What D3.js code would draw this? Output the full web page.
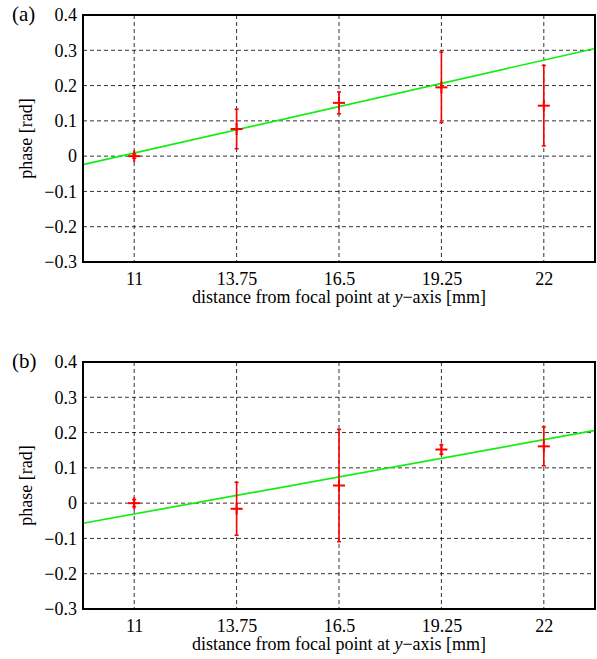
<!DOCTYPE html>
<html>
<head>
<meta charset="utf-8">
<script src="https://cdn.jsdelivr.net/npm/d3@7"></script>
<style>
  body { margin: 0; background: #fff; }
  .grid line { stroke: #000; stroke-width: 0.8; stroke-dasharray: 4,3; }
</style>
</head>
<body>
<div id="chart"></div>
<script>
// distances from focal point [mm]
const distances = [11, 13.75, 16.5, 19.25, 22];
const yTicks = [-0.3, -0.2, -0.1, 0, 0.1, 0.2, 0.3, 0.4];

// panel (a)
const phaseA = [0, 0.077, 0.151, 0.195, 0.143];
const errA = [0.006, 0.056, 0.031, 0.1, 0.114];
const fitA = [-0.024, 0.305]; // fit line at domain ends

// panel (b)
const phaseB = [0, -0.016, 0.05, 0.152, 0.161];
const errB = [0.01, 0.075, 0.159, 0.013, 0.055];
const fitB = [-0.057, 0.206];

const WIDTH = 597;
const HEIGHT = 659;
const X_DOMAIN = [9.625, 23.375];
const FONT = "'Liberation Serif', 'Times New Roman', serif";

const svg = d3.select("#chart")
    .append("svg")
    .attr("width", WIDTH)
    .attr("height", HEIGHT)
    .style("font-family", FONT);

const panels = [
    { label: "(a)", top: 15, phase: phaseA, err: errA, fit: fitA },
    { label: "(b)", top: 362, phase: phaseB, err: errB, fit: fitB }
];

const left = 83, right = 595, plotH = 247;

const x = d3.scaleLinear().domain(X_DOMAIN).range([left, right]);

panels.forEach(p => {
    const y = d3.scaleLinear().domain([-0.3, 0.4]).range([p.top + plotH, p.top]);
    const g = svg.append("g");

    // grid
    const grid = g.append("g").attr("class", "grid");
    grid.selectAll(".gx")
        .data(distances)
        .enter().append("line")
        .attr("x1", d => x(d)).attr("x2", d => x(d))
        .attr("y1", p.top).attr("y2", p.top + plotH);
    grid.selectAll(".gy")
        .data(yTicks.slice(1, -1))
        .enter().append("line")
        .attr("x1", left).attr("x2", right)
        .attr("y1", d => y(d)).attr("y2", d => y(d));

    // fit line
    g.append("line")
        .attr("x1", x(X_DOMAIN[0])).attr("y1", y(p.fit[0]))
        .attr("x2", x(X_DOMAIN[1])).attr("y2", y(p.fit[1]))
        .attr("stroke", "#11ee11")
        .attr("stroke-width", 1.7);

    // error bars + markers
    const pts = distances.map((d, i) => ({ x: d, y: p.phase[i], e: p.err[i] }));
    const eb = g.selectAll(".eb").data(pts).enter().append("g")
        .attr("stroke", "#ff0000")
        .attr("stroke-width", 1.6);
    eb.append("line")
        .attr("x1", d => x(d.x)).attr("x2", d => x(d.x))
        .attr("y1", d => y(d.y - d.e)).attr("y2", d => y(d.y + d.e));
    [-1, 1].forEach(s => {
        eb.append("line")
            .attr("x1", d => x(d.x) - 2).attr("x2", d => x(d.x) + 2)
            .attr("y1", d => y(d.y + s * d.e)).attr("y2", d => y(d.y + s * d.e));
    });
    // "+" markers
    eb.append("line")
        .attr("x1", d => x(d.x) - 6).attr("x2", d => x(d.x) + 6)
        .attr("y1", d => y(d.y)).attr("y2", d => y(d.y))
        .attr("stroke-width", 2);
    eb.append("line")
        .attr("x1", d => x(d.x)).attr("x2", d => x(d.x))
        .attr("y1", d => y(d.y) - 6).attr("y2", d => y(d.y) + 6)
        .attr("stroke-width", 2);

    // frame
    g.append("rect")
        .attr("x", left).attr("y", p.top)
        .attr("width", right - left).attr("height", plotH)
        .attr("fill", "none")
        .attr("stroke", "#000")
        .attr("stroke-width", 2);

    // axes (labels only)
    const xAxis = g.append("g")
        .attr("transform", `translate(0,${p.top + plotH})`)
        .call(d3.axisBottom(x).tickValues(distances).tickSize(0).tickPadding(10)
            .tickFormat(d => String(d)));
    xAxis.attr("font-family", null).attr("font-size", 18);
    xAxis.select(".domain").remove();
    xAxis.selectAll("text").attr("fill", "#000");

    const yAxis = g.append("g")
        .attr("transform", `translate(${left},0)`)
        .call(d3.axisLeft(y).tickValues(yTicks).tickSize(0).tickPadding(6)
            .tickFormat(d => d === 0 ? "0" : d3.format(".1f")(d).replace("-", "\u2212")));
    yAxis.attr("font-family", null).attr("font-size", 18);
    yAxis.select(".domain").remove();
    yAxis.selectAll("text").attr("fill", "#000");

    // axis titles
    const xt = g.append("text")
        .attr("x", 339)
        .attr("y", p.top + plotH + 41)
        .attr("text-anchor", "middle")
        .attr("font-size", 18);
    xt.append("tspan").text("distance from focal point at ");
    xt.append("tspan").attr("font-style", "italic").text("y");
    xt.append("tspan").text("\u2212axis [mm]");

    g.append("text")
        .attr("transform", `translate(32,${p.top + plotH / 2}) rotate(-90)`)
        .attr("text-anchor", "middle")
        .attr("font-size", 18)
        .text("phase [rad]");

    g.append("text")
        .attr("x", 12)
        .attr("y", p.top + 6)
        .attr("font-size", 21)
        .text(p.label);
});
</script>
</body>
</html>
